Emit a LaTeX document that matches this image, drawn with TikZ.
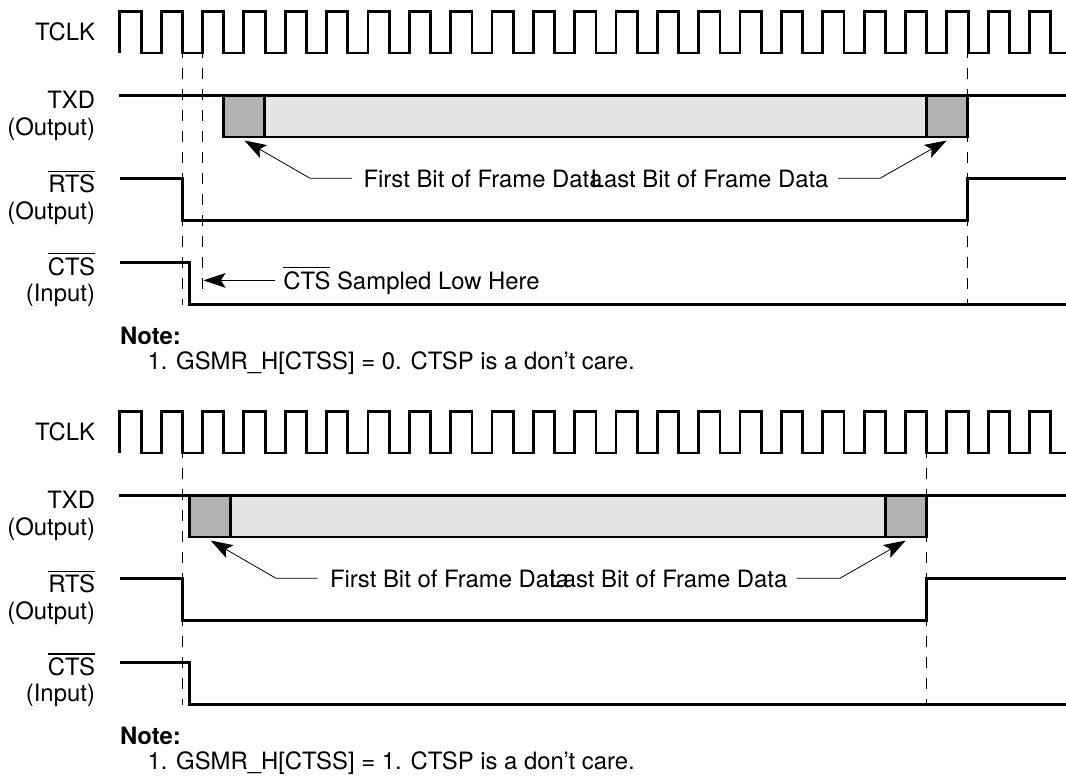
\documentclass[tikz,border=0pt]{standalone}
\usepackage{fontspec}
\setmainfont{TeX Gyre Heros}
\usetikzlibrary{arrows.meta}
\newcommand{\ovl}[1]{\hbox{\setbox0=\hbox{#1}\rlap{\rule[15.6pt]{\wd0}{1pt}}\box0}}
\newcommand{\clockwave}{%
  \draw[signal,line cap=butt] (119.8,53) -- (119.8,11.5)
    foreach \k in {0,...,22} {
      -- ({119.8+41.35*\k},11.5) -- ({141.1+41.35*\k},11.5)
      -- ({141.1+41.35*\k},53)
      -- ({161.15+41.35*\k},53)
      \ifnum\k<22 -- ({161.15+41.35*\k},11.5)\fi
    } -- (1066,53);%
}
\tikzset{
  signal/.style={line width=2.1pt,black,miter limit=10},
  guide/.style={line width=0.8pt,black,dash pattern=on 8.25pt off 7.5pt,dash phase=4.5pt},
  leader/.style={line width=0.6pt,black},
  pointer/.style={leader,-{Stealth[length=16.5pt,width=11pt,inset=3.5pt]}},
  txt/.style={inner sep=0pt,outer sep=0pt,font=\fontsize{17.9}{21}\selectfont},
  lab/.style={txt,anchor=base east},
  ltxt/.style={txt,anchor=base west},
  rtxt/.style={txt,anchor=base east},
  bitlight/.style={fill=black!10,draw=black,line width=2.1pt},
  bitdark/.style={fill=black!30,draw=black,line width=2.1pt},
}
\begin{document}
\begin{tikzpicture}[x=0.75pt,y=-0.75pt]
\useasboundingbox (0,0) rectangle (1066,777);

% ---------- upper panel
\begin{scope}
\node[lab] (tclkA) at (95,40.7) {TCLK};
\node[lab] (txdA) at (95,108.7) {TXD};
\node[lab] (txdoA) at (95,135.2) {(Output)};
\node[lab] (rtsA) at (95,192.7) {\ovl{RTS}};
\node[lab] (rtsoA) at (95,219.2) {(Output)};
\node[lab] (ctsA) at (95,275.3) {\ovl{CTS}};
\node[lab] (ctsiA) at (95,301.8) {(Input)};

\draw[guide] (182.5,53) -- (182.5,305);
\draw[guide] (202.5,53) -- (202.5,289);
\draw[guide] (967.5,53) -- (967.5,305);

\clockwave
\draw[signal] (119,95.5) -- (1066,95.5);
\path[bitlight] (264.5,95.5) rectangle (926.7,137);
\path[bitdark] (223.5,95.5) rectangle (264.5,137);
\path[bitdark] (926.7,95.5) rectangle (967.5,137);
\draw[signal] (120,178.4) -- (182.5,178.4) -- (182.5,220.3) -- (967.5,220.3) -- (967.5,178.4) -- (1066,178.4);
\draw[signal] (120,262.3) -- (189.5,262.3) -- (189.5,304.3) -- (1066,304.3);

\node[ltxt] (firstA) at (363.5,187.3) {First Bit of Frame Data};
\node[rtxt] (lastA) at (828.5,187.3) {Last Bit of Frame Data};
\node[ltxt] (sampA) at (283.3,289) {\ovl{CTS}\ Sampled Low Here};
\coordinate (f1A) at (352,178.3);
\coordinate (f2A) at (310,178.3);
\coordinate (f3A) at (244.5,140.5);
\coordinate (l1A) at (838,178.3);
\coordinate (l2A) at (880,178.3);
\coordinate (l3A) at (946.7,140.5);
\coordinate (s1A) at (275,280.4);
\coordinate (s2A) at (203.5,280.4);
\draw[pointer] (f1A) -- (f2A) -- (f3A);
\draw[pointer] (l1A) -- (l2A) -- (l3A);
\draw[pointer] (s1A) -- (s2A);

\node[ltxt,font=\fontsize{17.9}{21}\selectfont\bfseries] (noteA) at (120,344) {Note:};
\node[ltxt] (n1A) at (147.5,369) {1. GSMR\_H[CTSS] = 0. CTSP is a don’t care.};
\end{scope}

% ---------- lower panel
\begin{scope}[yshift=-300pt]
\node[lab] (tclkB) at (95,40.7) {TCLK};
\node[lab] (txdB) at (95,108.7) {TXD};
\node[lab] (txdoB) at (95,135.2) {(Output)};
\node[lab] (rtsB) at (95,192.7) {\ovl{RTS}};
\node[lab] (rtsoB) at (95,219.2) {(Output)};
\node[lab] (ctsB) at (95,275.3) {\ovl{CTS}};
\node[lab] (ctsiB) at (95,301.8) {(Input)};

\draw[guide] (182.5,53) -- (182.5,305);
\draw[guide] (926.7,53) -- (926.7,305);

\clockwave
\draw[signal] (119,95.5) -- (1066,95.5);
\path[bitlight] (230.5,95.5) rectangle (885.7,137);
\path[bitdark] (189.5,95.5) rectangle (230.5,137);
\path[bitdark] (885.7,95.5) rectangle (926.7,137);
\draw[signal] (120,178.4) -- (182.5,178.4) -- (182.5,220.3) -- (926.7,220.3) -- (926.7,178.4) -- (1066,178.4);
\draw[signal] (120,262.3) -- (189.5,262.3) -- (189.5,304.3) -- (1066,304.3);

\node[ltxt] (firstB) at (330,187.3) {First Bit of Frame Data};
\node[rtxt] (lastB) at (787.3,187.3) {Last Bit of Frame Data};
\coordinate (f1B) at (317.7,178.3);
\coordinate (f2B) at (276,178.3);
\coordinate (f3B) at (210.7,140.5);
\coordinate (l1B) at (796.7,178.3);
\coordinate (l2B) at (840,178.3);
\coordinate (l3B) at (905.7,140.5);
\draw[pointer] (f1B) -- (f2B) -- (f3B);
\draw[pointer] (l1B) -- (l2B) -- (l3B);

\node[ltxt,font=\fontsize{17.9}{21}\selectfont\bfseries] (noteB) at (120,344) {Note:};
\node[ltxt] (n1B) at (147.5,369) {1. GSMR\_H[CTSS] = 1. CTSP is a don’t care.};
\end{scope}
\end{tikzpicture}
\end{document}
